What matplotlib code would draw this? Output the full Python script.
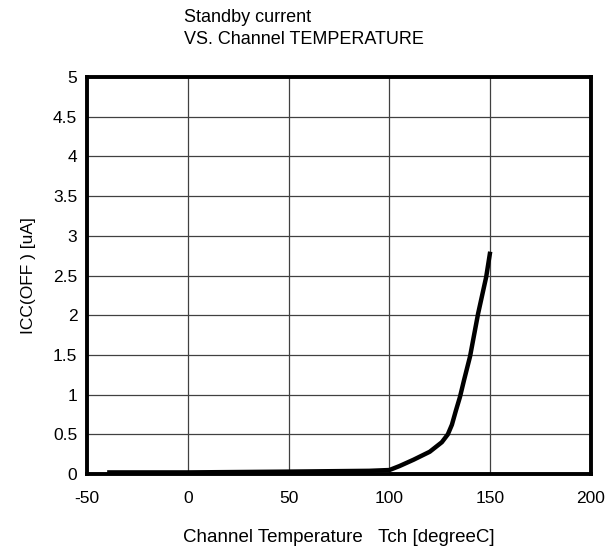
import matplotlib
matplotlib.use("Agg")
import matplotlib.pyplot as plt

plt.rcParams["font.family"] = ["Liberation Sans", "DejaVu Sans"]
plt.rcParams["axes.unicode_minus"] = False

# 読み取ったデータ
tch = [-40, 0, 50, 90, 100, 105, 112, 120, 126, 129, 131, 133, 135, 137, 140, 144, 148, 150]
icc = [0.02, 0.02, 0.03, 0.04, 0.05, 0.10, 0.18, 0.28, 0.40, 0.50, 0.62, 0.80, 0.97, 1.18, 1.48, 2.02, 2.48, 2.80]

xticks = [-50, 0, 50, 100, 150, 200]
yticks = [0, 0.5, 1, 1.5, 2, 2.5, 3, 3.5, 4, 4.5, 5]
ytick_labels = ["0", "0.5", "1", "1.5", "2", "2.5", "3", "3.5", "4", "4.5", "5"]

fig = plt.figure(figsize=(6.11, 5.49), dpi=100)
ax = fig.add_axes([87 / 611, 1 - 474 / 549, 504 / 611, 397 / 549])

ax.plot(tch, icc, color="black", lw=3.2, solid_capstyle="butt",
        solid_joinstyle="round", zorder=3)

ax.set_xlim(-50, 200)
ax.set_ylim(0, 5)
ax.set_xticks(xticks)
ax.set_yticks(yticks)
ax.set_yticklabels(ytick_labels)
ax.tick_params(axis="y", length=0, labelsize=12.5, pad=7)
ax.tick_params(axis="x", length=0, labelsize=12.5, pad=12)
ax.grid(True, color="#404040", lw=0.9)

for s in ax.spines.values():
    s.set_linewidth(2.8)
    s.set_color("black")

ax.set_xlabel("Channel Temperature   Tch [degreeC]", fontsize=13.5, labelpad=17)
ax.set_ylabel("ICC(OFF ) [uA]", fontsize=12.5, labelpad=12)

fig.text(184 / 611, 1 - 18 / 549, "Standby current", fontsize=13, va="center", ha="left")
fig.text(184 / 611, 1 - 40 / 549, "VS. Channel TEMPERATURE", fontsize=13, va="center", ha="left")

plt.savefig("out.png", dpi=100)
plt.close()
